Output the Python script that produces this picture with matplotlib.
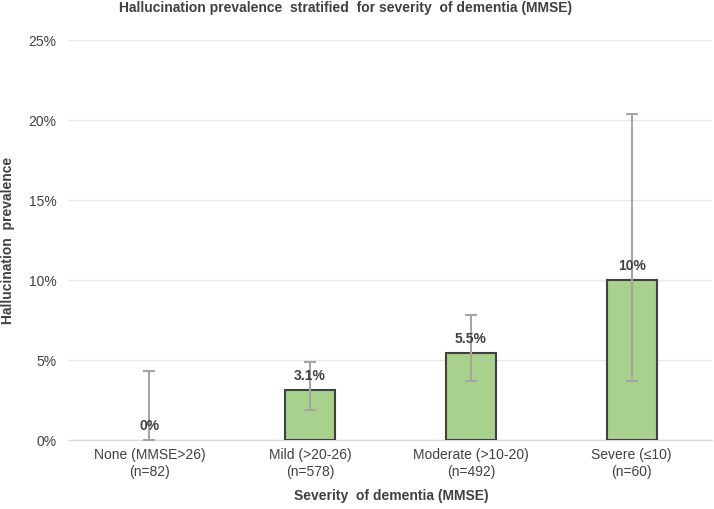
import numpy as np
import matplotlib
matplotlib.use("Agg")
import matplotlib.pyplot as plt
from matplotlib.ticker import FuncFormatter

plt.rcParams['font.family'] = ['Liberation Sans Narrow', 'Liberation Sans', 'DejaVu Sans']

categories = ["None (MMSE>26)\n(n=82)", "Mild (>20-26)\n(n=578)",
              "Moderate (>10-20)\n(n=492)", "Severe (\u226410)\n(n=60)"]
prevalence = [0.0, 3.15, 5.45, 10.0]
ci_low = [0.0, 1.9, 3.7, 3.7]
ci_high = [4.3, 4.9, 7.8, 20.4]
labels = ["0%", "3.1%", "5.5%", "10%"]

TXT = "#404040"

fig = plt.figure(figsize=(7.14, 5.09), dpi=100)
ax = fig.add_axes([69 / 714, 1 - 440 / 509, 643 / 714, 400 / 509])

x = np.arange(len(categories))
bars = ax.bar(x, prevalence, width=0.31, color="#A9D18E", edgecolor="#404040", linewidth=1.5, zorder=3)
for b, v in zip(bars, prevalence):
    if v == 0:
        b.set_linewidth(0)
lo = np.array(prevalence) - np.array(ci_low)
hi = np.array(ci_high) - np.array(prevalence)
ax.errorbar(x, prevalence, yerr=[lo, hi], fmt="none", ecolor="#A5A5A5",
            elinewidth=1.5, capsize=4, capthick=1.5, zorder=4)

for xi, v, t in zip(x, prevalence, labels):
    ax.annotate(t, (xi, v), textcoords="offset points", xytext=(0, 5),
                ha="center", va="bottom", fontsize=10, fontweight="bold", color=TXT, zorder=5)

ax.set_xlim(-0.5, len(categories) - 0.5)
ax.set_ylim(0, 25)
ax.set_yticks([0, 5, 10, 15, 20, 25])
ax.yaxis.set_major_formatter(FuncFormatter(lambda v, p: f"{v:.0f}%"))
ax.set_xticks(x)
ax.set_xticklabels(categories, fontsize=10, color=TXT)
ax.tick_params(axis="y", labelsize=10, labelcolor=TXT, length=0, pad=9)
ax.tick_params(axis="x", length=0, pad=6)
ax.grid(axis="y", color="#E8E8E8", linewidth=1, zorder=0)
for s in ["top", "right", "left"]:
    ax.spines[s].set_visible(False)
ax.spines["bottom"].set_color("#D9D9D9")
ax.spines["bottom"].set_linewidth(1)

fig.text(346 / 714, 1 - 8 / 509, "Hallucination prevalence  stratified  for severity  of dementia (MMSE)",
         ha="center", va="center", fontsize=10, fontweight="bold", color=TXT)
fig.text(8 / 714, 1 - 240 / 509, "Hallucination  prevalence", rotation=90, ha="center", va="center",
         fontsize=10, fontweight="bold", color=TXT)
fig.text(391 / 714, 1 - 496 / 509, "Severity  of dementia (MMSE)", ha="center", va="center",
         fontsize=10, fontweight="bold", color=TXT)

fig.savefig("out.png", dpi=100)
